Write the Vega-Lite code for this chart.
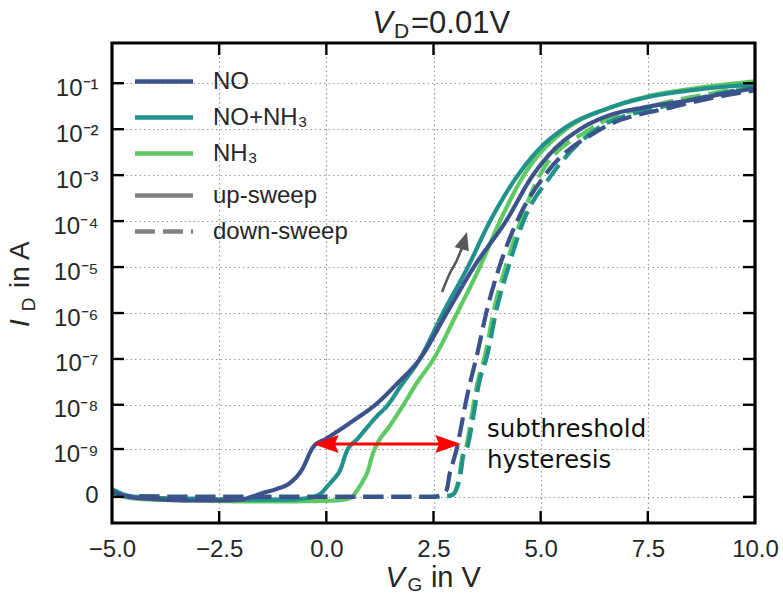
{
  "$schema": "https://vega.github.io/schema/vega-lite/v6.json",
  "width": 643,
  "height": 480,
  "autosize": {"type": "none"},
  "padding": {"left": 112, "top": 43, "right": 28, "bottom": 72},
  "background": "white",
  "config": {
    "font": "Liberation Sans",
    "view": {"stroke": null},
    "axis": {"labelFont": "Liberation Sans", "labelFontSize": 24, "labelColor": "#262626", "domain": false, "labelFlush": false, "labelOverlap": false}
  },
  "datasets": {
    "curves": [
      {"gas":"NH₃","sweep":"up-sweep","vg":-5,"id":2e-11},{"gas":"NH₃","sweep":"up-sweep","vg":-4.6,"id":-5e-12},{"gas":"NH₃","sweep":"up-sweep","vg":-4,"id":-1.5e-11},{"gas":"NH₃","sweep":"up-sweep","vg":-3,"id":-2e-11},{"gas":"NH₃","sweep":"up-sweep","vg":-2,"id":-2.5e-11},{"gas":"NH₃","sweep":"up-sweep","vg":-1,"id":-2.5e-11},{"gas":"NH₃","sweep":"up-sweep","vg":0,"id":-2.2e-11},{"gas":"NH₃","sweep":"up-sweep","vg":0.4,"id":-1.5e-11},{"gas":"NH₃","sweep":"up-sweep","vg":0.6,"id":0},{"gas":"NH₃","sweep":"up-sweep","vg":0.72,"id":4e-11},{"gas":"NH₃","sweep":"up-sweep","vg":0.85,"id":1.2e-10},{"gas":"NH₃","sweep":"up-sweep","vg":0.95,"id":2.3e-10},{"gas":"NH₃","sweep":"up-sweep","vg":1.09,"id":8e-10},{"gas":"NH₃","sweep":"up-sweep","vg":1.2,"id":1.4e-9},{"gas":"NH₃","sweep":"up-sweep","vg":1.48,"id":3.4e-9},{"gas":"NH₃","sweep":"up-sweep","vg":1.8,"id":1e-8},{"gas":"NH₃","sweep":"up-sweep","vg":2.1,"id":2.9e-8},{"gas":"NH₃","sweep":"up-sweep","vg":2.5,"id":1e-7},{"gas":"NH₃","sweep":"up-sweep","vg":3.05,"id":1e-6},{"gas":"NH₃","sweep":"up-sweep","vg":3.58,"id":1e-5},{"gas":"NH₃","sweep":"up-sweep","vg":4.05,"id":1e-4},{"gas":"NH₃","sweep":"up-sweep","vg":4.61,"id":1e-3},{"gas":"NH₃","sweep":"up-sweep","vg":5.59,"id":1e-2},{"gas":"NH₃","sweep":"up-sweep","vg":6.65,"id":3e-2},{"gas":"NH₃","sweep":"up-sweep","vg":7.5,"id":5.2e-2},{"gas":"NH₃","sweep":"up-sweep","vg":8.5,"id":7.5e-2},{"gas":"NH₃","sweep":"up-sweep","vg":10,"id":0.11},
      {"gas":"NH₃","sweep":"down-sweep","vg":-5,"id":3e-11},{"gas":"NH₃","sweep":"down-sweep","vg":-4.6,"id":3e-12},{"gas":"NH₃","sweep":"down-sweep","vg":-3,"id":0},{"gas":"NH₃","sweep":"down-sweep","vg":0,"id":0},{"gas":"NH₃","sweep":"down-sweep","vg":2.5,"id":0},{"gas":"NH₃","sweep":"down-sweep","vg":2.8,"id":3e-12},{"gas":"NH₃","sweep":"down-sweep","vg":2.95,"id":1.2e-11},{"gas":"NH₃","sweep":"down-sweep","vg":3.05,"id":7e-11},{"gas":"NH₃","sweep":"down-sweep","vg":3.1,"id":1.8e-10},{"gas":"NH₃","sweep":"down-sweep","vg":3.17,"id":6.4e-10},{"gas":"NH₃","sweep":"down-sweep","vg":3.27,"id":1.2e-9},{"gas":"NH₃","sweep":"down-sweep","vg":3.38,"id":5e-9},{"gas":"NH₃","sweep":"down-sweep","vg":3.52,"id":2.9e-8},{"gas":"NH₃","sweep":"down-sweep","vg":3.7,"id":1.17e-7},{"gas":"NH₃","sweep":"down-sweep","vg":3.92,"id":1.3e-6},{"gas":"NH₃","sweep":"down-sweep","vg":4.18,"id":1e-5},{"gas":"NH₃","sweep":"down-sweep","vg":4.53,"id":1e-4},{"gas":"NH₃","sweep":"down-sweep","vg":4.98,"id":1e-3},{"gas":"NH₃","sweep":"down-sweep","vg":6.15,"id":1e-2},{"gas":"NH₃","sweep":"down-sweep","vg":7.7,"id":3.4e-2},{"gas":"NH₃","sweep":"down-sweep","vg":9,"id":6e-2},{"gas":"NH₃","sweep":"down-sweep","vg":10,"id":9e-2},
      {"gas":"NO+NH₃","sweep":"up-sweep","vg":-5,"id":5e-11},{"gas":"NO+NH₃","sweep":"up-sweep","vg":-4.6,"id":5e-12},{"gas":"NO+NH₃","sweep":"up-sweep","vg":-4,"id":-5e-12},{"gas":"NO+NH₃","sweep":"up-sweep","vg":-3,"id":-1e-11},{"gas":"NO+NH₃","sweep":"up-sweep","vg":-2,"id":-1.5e-11},{"gas":"NO+NH₃","sweep":"up-sweep","vg":-1,"id":-1.5e-11},{"gas":"NO+NH₃","sweep":"up-sweep","vg":-0.5,"id":-8e-12},{"gas":"NO+NH₃","sweep":"up-sweep","vg":-0.3,"id":0},{"gas":"NO+NH₃","sweep":"up-sweep","vg":-0.1,"id":2.5e-11},{"gas":"NO+NH₃","sweep":"up-sweep","vg":0,"id":6e-11},{"gas":"NO+NH₃","sweep":"up-sweep","vg":0.15,"id":1.3e-10},{"gas":"NO+NH₃","sweep":"up-sweep","vg":0.32,"id":2.8e-10},{"gas":"NO+NH₃","sweep":"up-sweep","vg":0.48,"id":9e-10},{"gas":"NO+NH₃","sweep":"up-sweep","vg":0.72,"id":1.7e-9},{"gas":"NO+NH₃","sweep":"up-sweep","vg":1.18,"id":5.6e-9},{"gas":"NO+NH₃","sweep":"up-sweep","vg":1.44,"id":1e-8},{"gas":"NO+NH₃","sweep":"up-sweep","vg":1.7,"id":2.3e-8},{"gas":"NO+NH₃","sweep":"up-sweep","vg":2.18,"id":1e-7},{"gas":"NO+NH₃","sweep":"up-sweep","vg":2.72,"id":1e-6},{"gas":"NO+NH₃","sweep":"up-sweep","vg":3.3,"id":1e-5},{"gas":"NO+NH₃","sweep":"up-sweep","vg":3.82,"id":1e-4},{"gas":"NO+NH₃","sweep":"up-sweep","vg":4.47,"id":1e-3},{"gas":"NO+NH₃","sweep":"up-sweep","vg":5.0,"id":4e-3},{"gas":"NO+NH₃","sweep":"up-sweep","vg":5.52,"id":1e-2},{"gas":"NO+NH₃","sweep":"up-sweep","vg":6.62,"id":2.95e-2},{"gas":"NO+NH₃","sweep":"up-sweep","vg":7.5,"id":5e-2},{"gas":"NO+NH₃","sweep":"up-sweep","vg":8.5,"id":7e-2},{"gas":"NO+NH₃","sweep":"up-sweep","vg":10,"id":9.5e-2},
      {"gas":"NO+NH₃","sweep":"down-sweep","vg":-5,"id":3e-11},{"gas":"NO+NH₃","sweep":"down-sweep","vg":-4.6,"id":3e-12},{"gas":"NO+NH₃","sweep":"down-sweep","vg":-3,"id":0},{"gas":"NO+NH₃","sweep":"down-sweep","vg":0,"id":0},{"gas":"NO+NH₃","sweep":"down-sweep","vg":2.5,"id":0},{"gas":"NO+NH₃","sweep":"down-sweep","vg":2.8,"id":3e-12},{"gas":"NO+NH₃","sweep":"down-sweep","vg":2.95,"id":1.2e-11},{"gas":"NO+NH₃","sweep":"down-sweep","vg":3.05,"id":6e-11},{"gas":"NO+NH₃","sweep":"down-sweep","vg":3.12,"id":1.7e-10},{"gas":"NO+NH₃","sweep":"down-sweep","vg":3.19,"id":6.4e-10},{"gas":"NO+NH₃","sweep":"down-sweep","vg":3.3,"id":1.2e-9},{"gas":"NO+NH₃","sweep":"down-sweep","vg":3.42,"id":5e-9},{"gas":"NO+NH₃","sweep":"down-sweep","vg":3.56,"id":2.9e-8},{"gas":"NO+NH₃","sweep":"down-sweep","vg":3.75,"id":1.17e-7},{"gas":"NO+NH₃","sweep":"down-sweep","vg":3.98,"id":1.3e-6},{"gas":"NO+NH₃","sweep":"down-sweep","vg":4.25,"id":1e-5},{"gas":"NO+NH₃","sweep":"down-sweep","vg":4.6,"id":1e-4},{"gas":"NO+NH₃","sweep":"down-sweep","vg":5.25,"id":1e-3},{"gas":"NO+NH₃","sweep":"down-sweep","vg":6.3,"id":1e-2},{"gas":"NO+NH₃","sweep":"down-sweep","vg":7.9,"id":3.2e-2},{"gas":"NO+NH₃","sweep":"down-sweep","vg":9,"id":5.5e-2},{"gas":"NO+NH₃","sweep":"down-sweep","vg":10,"id":8.5e-2},
      {"gas":"NO","sweep":"up-sweep","vg":-5,"id":3e-11},{"gas":"NO","sweep":"up-sweep","vg":-4.6,"id":0},{"gas":"NO","sweep":"up-sweep","vg":-4,"id":-1.2e-11},{"gas":"NO","sweep":"up-sweep","vg":-3,"id":-2e-11},{"gas":"NO","sweep":"up-sweep","vg":-2.5,"id":-2e-11},{"gas":"NO","sweep":"up-sweep","vg":-2,"id":-1.5e-11},{"gas":"NO","sweep":"up-sweep","vg":-1.75,"id":0},{"gas":"NO","sweep":"up-sweep","vg":-1.48,"id":2.2e-11},{"gas":"NO","sweep":"up-sweep","vg":-1.15,"id":5e-11},{"gas":"NO","sweep":"up-sweep","vg":-0.85,"id":1e-10},{"gas":"NO","sweep":"up-sweep","vg":-0.57,"id":2.9e-10},{"gas":"NO","sweep":"up-sweep","vg":-0.31,"id":1.1e-9},{"gas":"NO","sweep":"up-sweep","vg":0.02,"id":1.8e-9},{"gas":"NO","sweep":"up-sweep","vg":0.62,"id":4.4e-9},{"gas":"NO","sweep":"up-sweep","vg":1.18,"id":1.07e-8},{"gas":"NO","sweep":"up-sweep","vg":1.65,"id":2.9e-8},{"gas":"NO","sweep":"up-sweep","vg":2.18,"id":1e-7},{"gas":"NO","sweep":"up-sweep","vg":2.81,"id":1e-6},{"gas":"NO","sweep":"up-sweep","vg":3.44,"id":1e-5},{"gas":"NO","sweep":"up-sweep","vg":4.19,"id":1e-4},{"gas":"NO","sweep":"up-sweep","vg":4.82,"id":1e-3},{"gas":"NO","sweep":"up-sweep","vg":5.3,"id":3.5e-3},{"gas":"NO","sweep":"up-sweep","vg":5.92,"id":1e-2},{"gas":"NO","sweep":"up-sweep","vg":6.6,"id":2e-2},{"gas":"NO","sweep":"up-sweep","vg":7.39,"id":2.95e-2},{"gas":"NO","sweep":"up-sweep","vg":8.5,"id":4.3e-2},{"gas":"NO","sweep":"up-sweep","vg":9.3,"id":6e-2},{"gas":"NO","sweep":"up-sweep","vg":10,"id":7.8e-2},
      {"gas":"NO","sweep":"down-sweep","vg":-5,"id":3e-11},{"gas":"NO","sweep":"down-sweep","vg":-4.6,"id":3e-12},{"gas":"NO","sweep":"down-sweep","vg":-3,"id":0},{"gas":"NO","sweep":"down-sweep","vg":0,"id":0},{"gas":"NO","sweep":"down-sweep","vg":2.5,"id":0},{"gas":"NO","sweep":"down-sweep","vg":2.7,"id":1.5e-11},{"gas":"NO","sweep":"down-sweep","vg":2.81,"id":4.5e-11},{"gas":"NO","sweep":"down-sweep","vg":2.88,"id":2.3e-10},{"gas":"NO","sweep":"down-sweep","vg":2.95,"id":4.5e-10},{"gas":"NO","sweep":"down-sweep","vg":3.05,"id":1.1e-9},{"gas":"NO","sweep":"down-sweep","vg":3.12,"id":2.4e-9},{"gas":"NO","sweep":"down-sweep","vg":3.28,"id":1.5e-8},{"gas":"NO","sweep":"down-sweep","vg":3.35,"id":2.9e-8},{"gas":"NO","sweep":"down-sweep","vg":3.51,"id":1.17e-7},{"gas":"NO","sweep":"down-sweep","vg":3.75,"id":1.2e-6},{"gas":"NO","sweep":"down-sweep","vg":4.05,"id":1.1e-5},{"gas":"NO","sweep":"down-sweep","vg":4.45,"id":1e-4},{"gas":"NO","sweep":"down-sweep","vg":5.1,"id":1e-3},{"gas":"NO","sweep":"down-sweep","vg":6.4,"id":1e-2},{"gas":"NO","sweep":"down-sweep","vg":8.02,"id":2.95e-2},{"gas":"NO","sweep":"down-sweep","vg":9,"id":4.8e-2},{"gas":"NO","sweep":"down-sweep","vg":10,"id":7e-2}
    ],
    "grayarrow": [
      {"vg":2.698,"id":2.87e-6},{"vg":2.884,"id":7.43e-6},{"vg":3.048,"id":1.43e-5},{"vg":3.164,"id":2.6e-5}
    ],
    "xticks": [{"v":-2.5},{"v":0},{"v":2.5},{"v":5},{"v":7.5}],
    "yticks": [{"v":0},{"v":1e-9},{"v":1e-8},{"v":1e-7},{"v":1e-6},{"v":1e-5},{"v":1e-4},{"v":1e-3},{"v":1e-2},{"v":1e-1}],
    "one": [{}]
  },
  "layer": [
    {
      "data": {"name": "curves"},
      "mark": {"type": "line", "strokeWidth": 4.2, "interpolate": "monotone"},
      "encoding": {
        "x": {"field": "vg", "type": "quantitative",
          "scale": {"domain": [-5, 10], "nice": false, "zero": false},
          "axis": {"orient": "bottom", "values": [-5,-2.5,0,2.5,5,7.5,10], "format": ".1f", "title": null, "grid": true, "gridColor": "#999999", "gridDash": [1.5,3], "gridWidth": 1.2, "ticks": false, "labelPadding": 14}},
        "y": {"field": "id", "type": "quantitative",
          "scale": {"type": "symlog", "constant": 1e-10, "domain": [-2.7e-10, 0.75], "nice": false, "zero": false},
          "axis": {"orient": "left", "values": [0,1e-9,1e-8,1e-7,1e-6,1e-5,1e-4,1e-3,1e-2,1e-1], "title": null, "grid": true, "gridColor": "#999999", "gridDash": [1.5,3], "gridWidth": 1.2, "ticks": false, "labelPadding": 14,
            "labelExpr": "datum.value == 0 ? '0' : '10' + ['⁻¹','⁻²','⁻³','⁻⁴','⁻⁵','⁻⁶','⁻⁷','⁻⁸','⁻⁹'][round(-log(datum.value)/LN10) - 1]",
            "labelOffset": {"condition": {"test": "datum.value == 0", "value": -1}, "value": 5}}},
        "color": {"field": "gas", "type": "nominal",
          "scale": {"domain": ["NO","NO+NH₃","NH₃"], "range": ["#3b528b","#21918c","#5ec962"]},
          "legend": {"orient": "none", "legendX": 37.5, "legendY": 24, "title": null, "symbolType": "M-2.4,0H2.4", "symbolSize": 585, "symbolStrokeWidth": 4.5, "symbolFillColor": "transparent", "labelOffset": 34.5, "rowPadding": 9, "padding": 0, "labelFontSize": 24, "labelFont": "Liberation Sans", "labelColor": "#262626", "symbolOffset": 0}},
        "strokeDash": {"field": "sweep", "type": "nominal",
          "scale": {"domain": ["up-sweep","down-sweep"], "range": [[1,0],[20,8]]},
          "legend": {"orient": "none", "legendX": 37.5, "legendY": 138, "title": null, "symbolType": "M-2.4,0H2.4", "symbolSize": 585, "symbolStrokeWidth": 4.5, "symbolStrokeColor": "#808080", "symbolFillColor": "transparent", "labelOffset": 34.5, "rowPadding": 9, "padding": 0, "labelFontSize": 24, "labelFont": "Liberation Sans", "labelColor": "#262626", "symbolOffset": 0}}
      }
    },
    {
      "data": {"name": "xticks"},
      "mark": {"type": "rule", "color": "#000000", "strokeWidth": 2.4},
      "encoding": {"x": {"field": "v", "type": "quantitative"}, "y": {"datum": -2.7e-10}, "y2": {"datum": -1.03e-10}}
    },
    {
      "data": {"name": "xticks"},
      "mark": {"type": "rule", "color": "#000000", "strokeWidth": 2.4},
      "encoding": {"x": {"field": "v", "type": "quantitative"}, "y": {"datum": 0.411}, "y2": {"datum": 0.75}}
    },
    {
      "data": {"name": "yticks"},
      "mark": {"type": "rule", "color": "#000000", "strokeWidth": 2.4},
      "encoding": {"y": {"field": "v", "type": "quantitative"}, "x": {"datum": -5}, "x2": {"datum": -4.72}}
    },
    {
      "data": {"name": "yticks"},
      "mark": {"type": "rule", "color": "#000000", "strokeWidth": 2.4},
      "encoding": {"y": {"field": "v", "type": "quantitative"}, "x": {"datum": 9.72}, "x2": {"datum": 10}}
    },
    {
      "data": {"name": "one"},
      "mark": {"type": "rect", "filled": false, "stroke": "#000000", "strokeWidth": 3.2, "fill": null},
      "encoding": {"x": {"datum": -5}, "x2": {"datum": 10}, "y": {"datum": -2.7e-10}, "y2": {"datum": 0.75}}
    },
    {
      "data": {"name": "one"},
      "mark": {"type": "rule", "color": "#ff0000", "strokeWidth": 3},
      "encoding": {"x": {"datum": -0.2}, "x2": {"datum": 3.05}, "y": {"datum": 1.32e-9}}
    },
    {
      "data": {"name": "one"},
      "mark": {"type": "point", "shape": "M0,0L2.05,-0.72L1.75,0L2.05,0.72Z", "size": 625, "filled": true, "fill": "#ff0000", "opacity": 1, "strokeWidth": 0},
      "encoding": {"x": {"datum": -0.31}, "y": {"datum": 1.32e-9}}
    },
    {
      "data": {"name": "one"},
      "mark": {"type": "point", "shape": "M0,0L-2.05,-0.72L-1.75,0L-2.05,0.72Z", "size": 625, "filled": true, "fill": "#ff0000", "opacity": 1, "strokeWidth": 0},
      "encoding": {"x": {"datum": 3.14}, "y": {"datum": 1.32e-9}}
    },
    {
      "data": {"name": "grayarrow"},
      "mark": {"type": "line", "color": "#595959", "strokeWidth": 2.6, "interpolate": "monotone"},
      "encoding": {"x": {"field": "vg", "type": "quantitative"}, "y": {"field": "id", "type": "quantitative"}}
    },
    {
      "data": {"name": "one"},
      "mark": {"type": "point", "shape": "M0,0L-0.62,1.5L0.62,1.5Z", "size": 576, "filled": true, "fill": "#595959", "opacity": 1, "strokeWidth": 0, "angle": 17},
      "encoding": {"x": {"datum": 3.281}, "y": {"datum": 5.8e-5}}
    },
    {
      "data": {"name": "one"},
      "mark": {"type": "text", "text": "subthreshold", "font": "DejaVu Sans", "fontSize": 24.5, "align": "left", "baseline": "alphabetic", "color": "#111111"},
      "encoding": {"x": {"datum": 3.747}, "y": {"datum": 1.91e-9}}
    },
    {
      "data": {"name": "one"},
      "mark": {"type": "text", "text": "hysteresis", "font": "DejaVu Sans", "fontSize": 24.5, "align": "left", "baseline": "alphabetic", "color": "#111111"},
      "encoding": {"x": {"datum": 3.747}, "y": {"datum": 3.25e-10}}
    },
    {
      "data": {"name": "one"},
      "mark": {"type": "text", "text": "V", "fontSize": 31, "fontStyle": "italic", "align": "left", "baseline": "alphabetic", "color": "#262626", "dy": -10},
      "encoding": {"x": {"datum": 1.07}, "y": {"datum": 0.75}}
    },
    {
      "data": {"name": "one"},
      "mark": {"type": "text", "text": "D", "fontSize": 21, "align": "left", "baseline": "alphabetic", "color": "#262626", "dy": -5},
      "encoding": {"x": {"datum": 1.578}, "y": {"datum": 0.75}}
    },
    {
      "data": {"name": "one"},
      "mark": {"type": "text", "text": "=0.01V", "fontSize": 31, "align": "left", "baseline": "alphabetic", "color": "#262626", "dy": -10},
      "encoding": {"x": {"datum": 1.975}, "y": {"datum": 0.75}}
    },
    {
      "data": {"name": "one"},
      "mark": {"type": "text", "text": "V", "fontSize": 29, "fontStyle": "italic", "align": "left", "baseline": "alphabetic", "color": "#262626", "dy": 64},
      "encoding": {"x": {"datum": 1.38}, "y": {"datum": -2.7e-10}}
    },
    {
      "data": {"name": "one"},
      "mark": {"type": "text", "text": "G", "fontSize": 19, "align": "left", "baseline": "alphabetic", "color": "#262626", "dy": 68},
      "encoding": {"x": {"datum": 1.895}, "y": {"datum": -2.7e-10}}
    },
    {
      "data": {"name": "one"},
      "mark": {"type": "text", "text": "in V", "fontSize": 29, "align": "left", "baseline": "alphabetic", "color": "#262626", "dy": 64},
      "encoding": {"x": {"datum": 2.44}, "y": {"datum": -2.7e-10}}
    },
    {
      "data": {"name": "one"},
      "mark": {"type": "text", "text": "I", "fontSize": 28, "fontStyle": "italic", "align": "left", "baseline": "alphabetic", "angle": 270, "color": "#262626"},
      "encoding": {"x": {"datum": -6.936}, "y": {"datum": 4.96e-7}}
    },
    {
      "data": {"name": "one"},
      "mark": {"type": "text", "text": "D", "fontSize": 19, "align": "left", "baseline": "alphabetic", "angle": 270, "color": "#262626"},
      "encoding": {"x": {"datum": -6.796}, "y": {"datum": 1.1e-6}}
    },
    {
      "data": {"name": "one"},
      "mark": {"type": "text", "text": "in A", "fontSize": 28, "align": "left", "baseline": "alphabetic", "angle": 270, "color": "#262626"},
      "encoding": {"x": {"datum": -6.936}, "y": {"datum": 3.5e-6}}
    }
  ]
}
